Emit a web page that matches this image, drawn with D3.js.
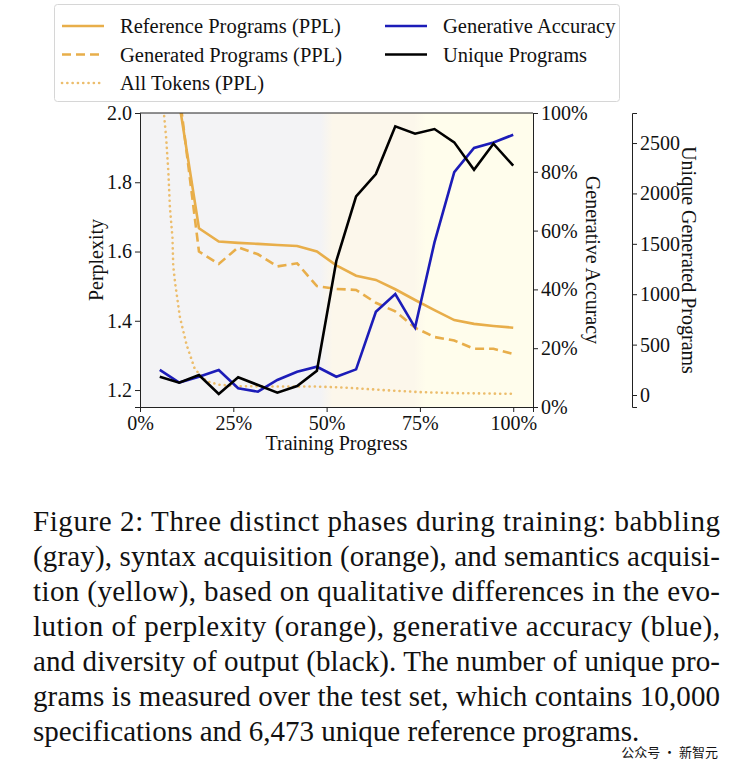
<!DOCTYPE html>
<html>
<head>
<meta charset="utf-8">
<script src="https://cdn.jsdelivr.net/npm/d3@7/dist/d3.min.js"></script>
<style>
  html, body { margin: 0; padding: 0; background: #ffffff; }
  svg { display: block; }
  text { font-family: "Liberation Serif", "DejaVu Serif", serif; fill: #111; }
</style>
</head>
<body>
<svg id="chart" width="740" height="760"></svg>
<script>
// ---------------- data ----------------
const progress = [5.3, 10.5, 15.8, 21.1, 26.3, 31.6, 36.8, 42.1, 47.4, 52.6, 57.9, 63.2, 68.4, 73.7, 78.9, 84.2, 89.5, 94.7, 100];
const referencePPL = [2.60, 2.03, 1.667, 1.629, 1.625, 1.622, 1.619, 1.616, 1.600, 1.560, 1.530, 1.518, 1.491, 1.460, 1.431, 1.402, 1.391, 1.385, 1.380];
const generatedPPL = [2.70, 2.06, 1.600, 1.564, 1.612, 1.592, 1.557, 1.566, 1.500, 1.492, 1.489, 1.452, 1.427, 1.380, 1.353, 1.343, 1.319, 1.319, 1.304];
const accuracy = [0.126, 0.083, 0.103, 0.126, 0.064, 0.052, 0.092, 0.120, 0.137, 0.103, 0.128, 0.324, 0.384, 0.270, 0.560, 0.799, 0.881, 0.900, 0.926];
const uniquePrograms = [182, 122, 198, 10, 176, 99, 23, 89, 241, 1330, 1971, 2192, 2666, 2592, 2639, 2507, 2235, 2493, 2275];
// All-token perplexity is logged more densely
const allTokensProgress = [5.2, 6.4, 7.0, 7.6, 8.0, 8.7, 8.9, 9.4, 10.7, 12.5, 14.7, 17.9, 21.4, 26.8, 40.0, 47.4, 55.0, 65.0, 75.0, 85.0, 100];
const allTokensPPL = [2.45, 2.00, 1.93, 1.83, 1.73, 1.64, 1.56, 1.51, 1.41, 1.33, 1.26, 1.225, 1.215, 1.211, 1.210, 1.210, 1.207, 1.200, 1.194, 1.191, 1.189];

const phases = [
  {name: "babbling", from: 0, to: 50, color: "#f3f3f5"},
  {name: "syntax", from: 50, to: 75, color: "#fcf7eb"},
  {name: "semantics", from: 75, to: 105.3, color: "#fffdec"}
];

const xTicks = [0, 25, 50, 75, 100];
const pplTicks = [1.2, 1.4, 1.6, 1.8, 2.0];
const accTicks = [0, 0.2, 0.4, 0.6, 0.8, 1.0];
const uniqueTicks = [0, 500, 1000, 1500, 2000, 2500];

const legendItems = [
  {label: "Reference Programs (PPL)", color: "#e8ae4a", dash: null, col: 0, row: 0},
  {label: "Generated Programs (PPL)", color: "#e8ae4a", dash: "9,5", col: 0, row: 1},
  {label: "All Tokens (PPL)", color: "#ecbd6c", dash: "dot", col: 0, row: 2},
  {label: "Generative Accuracy", color: "#1c1cb8", dash: null, col: 1, row: 0},
  {label: "Unique Programs", color: "#000000", dash: null, col: 1, row: 1}
];

const captionLines = [
  "Figure 2: Three distinct phases during training: babbling",
  "(gray), syntax acquisition (orange), and semantics acquisi-",
  "tion (yellow), based on qualitative differences in the evo-",
  "lution of perplexity (orange), generative accuracy (blue),",
  "and diversity of output (black). The number of unique pro-",
  "grams is measured over the test set, which contains 10,000",
  "specifications and 6,473 unique reference programs."
];

// ---------------- layout ----------------
const svg = d3.select("#chart");
const plot = {left: 140, right: 533, top: 113, bottom: 407};

const x = d3.scaleLinear().domain([0, 105.3]).range([plot.left, plot.right]);
const yPPL = d3.scaleLinear().domain([1.151, 2.0]).range([plot.bottom, plot.top]);
const yAcc = d3.scaleLinear().domain([0, 1]).range([plot.bottom, plot.top]);
const yUni = d3.scaleLinear().domain([-119, 2798]).range([plot.bottom, plot.top]);

const defs = svg.append("defs");
defs.append("clipPath").attr("id", "plotClip")
  .append("rect").attr("x", plot.left).attr("y", plot.top)
  .attr("width", plot.right - plot.left).attr("height", plot.bottom - plot.top);

// phase backgrounds as a soft gradient
const grad = defs.append("linearGradient").attr("id", "phaseGrad")
  .attr("gradientUnits", "userSpaceOnUse")
  .attr("x1", plot.left).attr("x2", plot.right).attr("y1", 0).attr("y2", 0);
const w = plot.right - plot.left;
const soft = 6; // px of blending
phases.forEach((p, i) => {
  const a = (x(p.from) - plot.left + (i > 0 ? soft : 0)) / w;
  const b = (x(p.to) - plot.left - (i < phases.length - 1 ? soft : 0)) / w;
  grad.append("stop").attr("offset", Math.max(0, a)).attr("stop-color", p.color);
  grad.append("stop").attr("offset", Math.min(1, b)).attr("stop-color", p.color);
});
svg.append("rect").attr("x", plot.left).attr("y", plot.top)
  .attr("width", w).attr("height", plot.bottom - plot.top)
  .attr("fill", "url(#phaseGrad)");

// ---------------- lines ----------------
const g = svg.append("g").attr("clip-path", "url(#plotClip)");
const lineOf = (ys, xs, yScale) => d3.line().x((d, i) => x(xs[i])).y(d => yScale(d))(ys);

g.append("path").attr("d", lineOf(allTokensPPL, allTokensProgress, yPPL))
  .attr("fill", "none").attr("stroke", "#ecbd6c").attr("stroke-width", 2.6)
  .attr("stroke-dasharray", "0.1,5.2").attr("stroke-linecap", "round");
g.append("path").attr("d", lineOf(generatedPPL, progress, yPPL))
  .attr("fill", "none").attr("stroke", "#e8ae4a").attr("stroke-width", 2.6)
  .attr("stroke-dasharray", "9,5");
g.append("path").attr("d", lineOf(referencePPL, progress, yPPL))
  .attr("fill", "none").attr("stroke", "#e8ae4a").attr("stroke-width", 2.6);
g.append("path").attr("d", lineOf(accuracy, progress, yAcc))
  .attr("fill", "none").attr("stroke", "#1c1cb8").attr("stroke-width", 2.6);
g.append("path").attr("d", lineOf(uniquePrograms, progress, yUni))
  .attr("fill", "none").attr("stroke", "#000000").attr("stroke-width", 2.6);

// ---------------- axes ----------------
const tickFont = "20px";
function styleAxis(sel) {
  sel.selectAll("path.domain").attr("stroke", "#222").attr("stroke-width", 1);
  sel.selectAll(".tick line").attr("stroke", "#222").attr("stroke-width", 1);
  sel.selectAll(".tick text").style("font-family", "Liberation Serif, serif")
    .style("font-size", tickFont).attr("fill", "#111");
}

const xAxis = svg.append("g").attr("transform", `translate(0,${plot.bottom})`)
  .call(d3.axisBottom(x).tickValues(xTicks).tickFormat(d => d + "%").tickSizeOuter(0).tickSize(5).tickPadding(4));
styleAxis(xAxis);

const yAxisL = svg.append("g").attr("transform", `translate(${plot.left},0)`)
  .call(d3.axisLeft(yPPL).tickValues(pplTicks).tickFormat(d3.format(".1f")).tickSizeOuter(0).tickSize(5).tickPadding(3));
styleAxis(yAxisL);

const yAxisR = svg.append("g").attr("transform", `translate(${plot.right},0)`)
  .call(d3.axisRight(yAcc).tickValues(accTicks).tickFormat(d => Math.round(d * 100) + "%").tickSizeOuter(0).tickSize(5).tickPadding(3));
styleAxis(yAxisR);

const uniX = 632;
const yAxisU = svg.append("g").attr("transform", `translate(${uniX},0)`)
  .call(d3.axisRight(yUni).tickValues(uniqueTicks).tickFormat(d3.format("d")).tickSizeOuter(0).tickSize(5).tickPadding(3));
styleAxis(yAxisU);

// top spine
svg.append("line").attr("x1", plot.left).attr("x2", plot.right)
  .attr("y1", plot.top).attr("y2", plot.top).attr("stroke", "#222").attr("stroke-width", 1);

// axis titles
svg.append("text").attr("x", (plot.left + plot.right) / 2).attr("y", 450).attr("text-anchor", "middle")
  .style("font-size", "20px").text("Training Progress");
svg.append("text").attr("transform", `translate(96,${(plot.top + plot.bottom) / 2}) rotate(-90)`)
  .attr("text-anchor", "middle").attr("dominant-baseline", "central")
  .style("font-size", "20px").text("Perplexity");
svg.append("text").attr("transform", `translate(593,${(plot.top + plot.bottom) / 2}) rotate(90)`)
  .attr("text-anchor", "middle").attr("dominant-baseline", "central")
  .style("font-size", "20px").text("Generative Accuracy");
svg.append("text").attr("transform", `translate(689,${(plot.top + plot.bottom) / 2}) rotate(90)`)
  .attr("text-anchor", "middle").attr("dominant-baseline", "central")
  .style("font-size", "20px").text("Unique Generated Programs");

// ---------------- legend ----------------
const lg = svg.append("g");
lg.append("rect").attr("x", 54.5).attr("y", 4.5).attr("width", 565).attr("height", 97)
  .attr("rx", 3).attr("fill", "#fff").attr("stroke", "#d6d6d6").attr("stroke-width", 1);
const colX = [62, 385];
const rowY = [26, 54.5, 83];
legendItems.forEach(it => {
  const x0 = colX[it.col], y0 = rowY[it.row];
  const l = lg.append("line").attr("x1", x0).attr("x2", x0 + 42).attr("y1", y0).attr("y2", y0)
    .attr("stroke", it.color).attr("stroke-width", 2.6);
  if (it.dash === "dot") l.attr("stroke-dasharray", "0.1,5.2").attr("stroke-linecap", "round");
  else if (it.dash) l.attr("stroke-dasharray", it.dash);
  lg.append("text").attr("x", x0 + 58).attr("y", y0).attr("dominant-baseline", "central")
    .style("font-size", "20.5px").text(it.label);
});

// ---------------- caption ----------------
const cap = svg.append("g");
captionLines.forEach((line, i) => {
  const t = cap.append("text").attr("x", 33).attr("y", 531 + i * 35)
    .style("font-size", "29px").text(line);
  if (i < captionLines.length - 1) t.attr("textLength", 687).attr("lengthAdjust", "spacing");
});
// watermark (kept just below the last caption line so it does not collide)
svg.append("text").attr("x", 718).attr("y", 757).attr("text-anchor", "end")
  .style("font-family", "Noto Sans CJK SC, sans-serif").style("font-size", "13px")
  .attr("fill", "#a8a8a8").text("公众号 · 新智元");
</script>
</body>
</html>
